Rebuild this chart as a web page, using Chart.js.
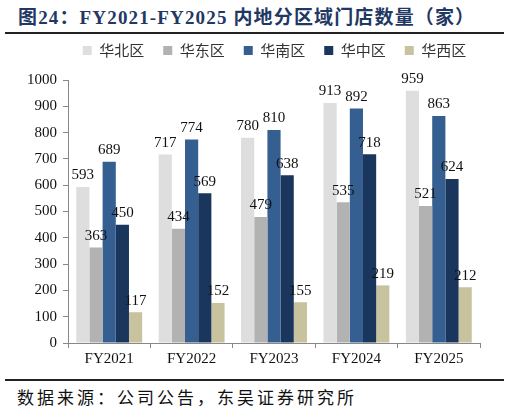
<!DOCTYPE html>
<html>
<head>
<meta charset="utf-8">
<script src="https://cdn.jsdelivr.net/npm/chart.js@4/dist/chart.umd.min.js"></script>
<style>
  body { margin: 0; width: 510px; height: 412px; background: #fff; position: relative; overflow: hidden; }
  #title { position: absolute; left: 18px; top: 2px; font: bold 19px "Liberation Serif", "Noto Sans CJK SC"; color: #1F3864; white-space: nowrap; letter-spacing: 1.15px; }
  #line1 { position: absolute; left: 5px; top: 32px; width: 499px; height: 2px; background: #222; }
  #line2 { position: absolute; left: 5px; top: 379px; width: 499px; height: 2px; background: #222; }
  #foot { position: absolute; left: 17px; top: 384px; font: 17px "Noto Sans CJK SC"; color: #111; white-space: nowrap; letter-spacing: 3px; }
  #wrap { position: absolute; left: 0; top: 24px; width: 510px; height: 346px; }
</style>
</head>
<body>
<div id="title">图24：FY2021-FY2025 内地分区域门店数量（家）</div>
<div id="line1"></div>
<div id="wrap"><canvas id="storeChart"></canvas></div>
<div id="line2"></div>
<div id="foot">数据来源：公司公告，东吴证券研究所</div>
<script>
// data
const years = ["FY2021", "FY2022", "FY2023", "FY2024", "FY2025"];
const regions = ["华北区", "华东区", "华南区", "华中区", "华西区"];
const north = [593, 717, 780, 913, 959];
const east = [363, 434, 479, 535, 521];
const south = [689, 774, 810, 892, 863];
const central = [450, 569, 638, 718, 624];
const west = [117, 152, 155, 219, 212];
const colors = ["#DEDEDE", "#B2B2B2", "#365F91", "#1A365D", "#C8C29E"];

const series = [north, east, south, central, west];

// value labels above bars
const barLabels = {
  id: "barLabels",
  afterDatasetsDraw(chart) {
    const ctx = chart.ctx;
    ctx.save();
    ctx.font = '15px "Liberation Serif"';
    ctx.fillStyle = "#111";
    ctx.textAlign = "center";
    ctx.textBaseline = "bottom";
    chart.data.datasets.forEach((ds, i) => {
      chart.getDatasetMeta(i).data.forEach((bar, j) => {
        ctx.fillText(ds.data[j], bar.x, bar.y - 4);
      });
    });
    ctx.restore();
  }
};

// more room under the legend, and nudge it right
const legendSpace = {
  id: "legendSpace",
  beforeInit(chart) {
    const fit = chart.legend.fit;
    chart.legend.fit = function () {
      fit.bind(chart.legend)();
      this.height += 12;
    };
  },
  afterLayout(chart) {
    chart.legend.left += 24;
    chart.legend.right += 24;
  }
};

const ctxStore = document.getElementById("storeChart").getContext("2d");
new Chart(ctxStore, {
  type: "bar",
  data: {
    labels: years,
    datasets: series.map((d, i) => ({
      label: regions[i],
      data: d,
      backgroundColor: colors[i],
      barPercentage: 1,
      categoryPercentage: 0.8
    }))
  },
  options: {
    responsive: true,
    maintainAspectRatio: false,
    animation: false,
    layout: { padding: { left: 21, right: 30, top: 0, bottom: 0 } },
    plugins: {
      legend: {
        position: "top",
        labels: {
          boxWidth: 9,
          boxHeight: 9,
          padding: 19,
          color: "#333",
          font: { size: 15, family: '"Noto Sans CJK SC"' }
        }
      },
      tooltip: { enabled: false }
    },
    scales: {
      x: {
        offset: true,
        grid: { offset: true, drawOnChartArea: false, drawTicks: true, tickLength: 5, color: "#888" },
        border: { color: "#888" },
        ticks: { color: "#111", font: { size: 15, family: '"Liberation Serif"' }, padding: 2 }
      },
      y: {
        min: 0,
        max: 1000,
        ticks: {
          stepSize: 100,
          color: "#111",
          font: { size: 15, family: '"Liberation Serif"' },
          padding: 6,
          callback: (v) => String(v)
        },
        grid: { drawOnChartArea: false, drawTicks: true, tickLength: 5, color: "#888" },
        border: { color: "#888" }
      }
    }
  },
  plugins: [barLabels, legendSpace]
});
</script>
</body>
</html>
